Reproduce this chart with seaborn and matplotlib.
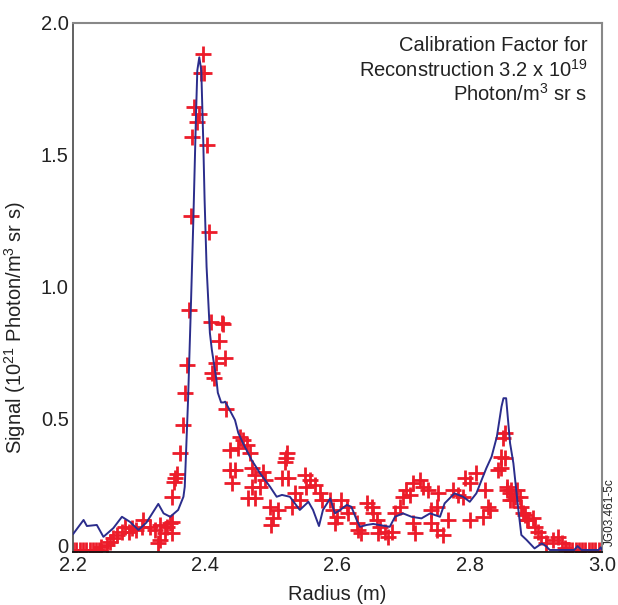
import numpy as np
import pandas as pd
import matplotlib
matplotlib.use("Agg")
import matplotlib.pyplot as plt
import matplotlib.transforms as mtransforms
import seaborn as sns

# ---- Reconstruction (blue line) ----
line_r = [2.200, 2.216, 2.221, 2.236, 2.246, 2.261, 2.274, 2.286, 2.299, 2.311,
          2.329, 2.337, 2.347, 2.359, 2.367, 2.369, 2.374, 2.378, 2.382, 2.386,
          2.388, 2.391, 2.394, 2.397, 2.399, 2.402, 2.407, 2.410, 2.417, 2.419,
          2.424, 2.428, 2.430, 2.437, 2.445, 2.450, 2.457, 2.470, 2.483, 2.498,
          2.508, 2.516, 2.528, 2.543, 2.556, 2.563, 2.572, 2.578, 2.589, 2.596,
          2.604, 2.614, 2.621, 2.629, 2.634, 2.644, 2.654, 2.663, 2.679, 2.687,
          2.699, 2.712, 2.727, 2.740, 2.755, 2.762, 2.777, 2.790, 2.800, 2.810,
          2.818, 2.825, 2.833, 2.841, 2.848, 2.851, 2.855, 2.861, 2.866, 2.873,
          2.878, 2.886, 2.898, 2.909, 2.916, 2.921, 2.958, 2.963, 2.969, 2.995,
          2.998, 3.000]
line_s = [0.060, 0.114, 0.091, 0.095, 0.050, 0.083, 0.126, 0.107, 0.076, 0.104,
          0.175, 0.139, 0.126, 0.152, 0.202, 0.240, 0.569, 0.900, 1.252, 1.650,
          1.820, 1.870, 1.820, 1.550, 1.330, 1.075, 0.824, 0.759, 0.645, 0.597,
          0.560, 0.560, 0.563, 0.531, 0.493, 0.444, 0.406, 0.342, 0.291, 0.240,
          0.202, 0.209, 0.202, 0.152, 0.183, 0.152, 0.091, 0.152, 0.196, 0.139,
          0.152, 0.171, 0.164, 0.114, 0.088, 0.095, 0.099, 0.095, 0.088, 0.126,
          0.139, 0.126, 0.120, 0.139, 0.126, 0.177, 0.215, 0.202, 0.183, 0.215,
          0.266, 0.310, 0.354, 0.430, 0.544, 0.576, 0.576, 0.405, 0.329, 0.164,
          0.057, 0.038, 0.006, 0.025, 0.013, 0.000, 0.000, 0.015, 0.000, 0.000,
          0.010, 0.000]

# ---- Measured signal (red crosses) ----
meas_r = [2.200, 2.205, 2.210, 2.215, 2.220, 2.225, 2.230, 2.235, 2.240,
          2.243, 2.251, 2.256, 2.261, 2.266, 2.274, 2.279, 2.284, 2.289, 2.296,
          2.304, 2.306, 2.316, 2.324, 2.329, 2.332, 2.332, 2.339, 2.342, 2.347,
          2.349, 2.349, 2.349, 2.352, 2.354, 2.357, 2.362, 2.367, 2.369, 2.372,
          2.375, 2.378, 2.380, 2.383, 2.387, 2.391, 2.393, 2.396, 2.398, 2.402,
          2.405, 2.408, 2.410, 2.413, 2.417, 2.421, 2.425, 2.427, 2.430,
          2.432, 2.452, 2.457, 2.463, 2.437, 2.450, 2.468, 2.437, 2.445, 2.440,
          2.470, 2.475, 2.488, 2.470, 2.483, 2.475, 2.490, 2.465, 2.523, 2.520,
          2.522, 2.516, 2.525, 2.498, 2.510, 2.503, 2.500, 2.536, 2.543, 2.531,
          2.551, 2.558, 2.553, 2.566, 2.573, 2.576, 2.589, 2.593, 2.599, 2.596,
          2.606, 2.614, 2.616, 2.629, 2.631, 2.636, 2.644, 2.652, 2.654, 2.659,
          2.662,
          2.664, 2.672, 2.677, 2.682, 2.687, 2.694, 2.699, 2.704, 2.709, 2.714,
          2.725, 2.730, 2.737, 2.714, 2.717, 2.742, 2.750, 2.742, 2.750, 2.760,
          2.752, 2.767, 2.775, 2.782, 2.793, 2.800, 2.810, 2.800, 2.790, 2.823,
          2.828, 2.820, 2.830, 2.843, 2.848, 2.853, 2.850, 2.856, 2.861, 2.871,
          2.866, 2.876, 2.881, 2.886, 2.853, 2.848, 2.856, 2.863, 2.868, 2.861,
          2.878, 2.883, 2.888, 2.896, 2.898, 2.903, 2.908, 2.916, 2.926, 2.934,
          2.939, 2.944,
          2.945, 2.950, 2.955, 2.960, 2.965, 2.970, 2.975, 2.980, 2.985, 2.990,
          2.995, 3.000]
meas_s = [0.000, 0.000, 0.000, 0.000, 0.000, 0.000, 0.000, 0.000, 0.000,
          0.013, 0.019, 0.031, 0.044, 0.057, 0.069, 0.088, 0.069, 0.082, 0.076,
          0.088, 0.114, 0.088, 0.076, 0.025, 0.038, 0.095, 0.063, 0.088, 0.101,
          0.107, 0.063, 0.202, 0.259, 0.272, 0.288, 0.367, 0.474, 0.597, 0.702,
          0.911, 1.268, 1.569, 1.680, 1.625, 1.654, 1.810, 1.881, 1.809, 1.537,
          1.206, 0.866, 0.671, 0.652, 0.711, 0.794, 0.863, 0.858, 0.730,
          0.534, 0.430, 0.417, 0.398, 0.380, 0.386, 0.367, 0.304, 0.304, 0.253,
          0.310, 0.285, 0.297, 0.240, 0.240, 0.196, 0.266, 0.196, 0.367, 0.335,
          0.349, 0.272, 0.272, 0.164, 0.152, 0.120, 0.095, 0.215, 0.190, 0.164,
          0.285, 0.266, 0.240, 0.247, 0.215, 0.190, 0.190, 0.152, 0.126, 0.101,
          0.190, 0.164, 0.139, 0.101, 0.076, 0.063, 0.177, 0.164, 0.139, 0.114,
          0.063,
          0.088, 0.069, 0.050, 0.069, 0.139, 0.164, 0.202, 0.228, 0.209, 0.253,
          0.266, 0.240, 0.228, 0.101, 0.063, 0.152, 0.164, 0.101, 0.076, 0.057,
          0.215, 0.114, 0.228, 0.209, 0.272, 0.253, 0.291, 0.114, 0.202, 0.228,
          0.164, 0.126, 0.152, 0.304, 0.354, 0.443, 0.424, 0.228, 0.215, 0.228,
          0.190, 0.202, 0.139, 0.114, 0.348, 0.310, 0.240, 0.228, 0.202, 0.190,
          0.164, 0.133, 0.114, 0.120, 0.088, 0.069, 0.050, 0.025, 0.038, 0.050,
          0.025, 0.006,
          0.000, 0.000, 0.000, 0.000, 0.000, 0.000, 0.000, 0.000, 0.000, 0.000,
          0.000, 0.000]

x_ticks = [2.2, 2.4, 2.6, 2.8, 3.0]
x_ticklabels = ["2.2", "2.4", "2.6", "2.8", "3.0"]
y_ticks = [0, 0.5, 1.0, 1.5, 2.0]
y_ticklabels = ["0", "0.5", "1.0", "1.5", "2.0"]

line_df = pd.DataFrame({"r": line_r, "s": line_s})
meas_df = pd.DataFrame({"r": meas_r, "s": meas_s})

sns.set_style("white")
plt.rcParams["font.family"] = ["Liberation Sans", "DejaVu Sans"]
plt.rcParams["mathtext.fontset"] = "custom"
plt.rcParams["mathtext.rm"] = "Liberation Sans"
plt.rcParams["mathtext.it"] = "Liberation Sans:italic"
plt.rcParams["mathtext.bf"] = "Liberation Sans:bold"

FS = 14.5

fig = plt.figure(figsize=(6.18, 6.05), dpi=100)
ax = fig.add_axes([73 / 618, 1 - 552 / 605, 529 / 618, 529 / 605])

sns.scatterplot(data=meas_df, x="r", y="s", ax=ax, marker="+", s=125,
                color="#ec1c2a", linewidth=2.0, zorder=2, legend=False)
sns.lineplot(data=line_df, x="r", y="s", ax=ax, color="#2b2d8c",
             linewidth=1.4, zorder=3, sort=False, estimator=None)

ax.set_xlim(2.2, 3.0)
ax.set_ylim(-0.0076, 2.0)
ax.set_xticks(x_ticks)
ax.set_xticklabels(x_ticklabels)
ax.set_yticks(y_ticks)
ax.set_yticklabels(y_ticklabels)
ax.tick_params(axis="both", direction="in", length=12, width=1.0,
               color="#555555", labelsize=FS, labelcolor="#222222", pad=3)
# lift the "0" label a few pixels, as in the reference
zero_lbl = ax.get_yticklabels()[0]
zero_lbl.set_transform(zero_lbl.get_transform() +
                       mtransforms.ScaledTranslation(0, 4 / 100, fig.dpi_scale_trans))

for side in ["top", "right"]:
    ax.spines[side].set_visible(True)
    ax.spines[side].set_color("#888888")
    ax.spines[side].set_linewidth(1.5)
ax.spines["left"].set_color("#555555")
ax.spines["left"].set_linewidth(1.3)
ax.spines["bottom"].set_color("#111111")
ax.spines["bottom"].set_linewidth(1.3)

ax.set_xlabel("Radius (m)", fontsize=FS, color="#222222")
ax.set_ylabel("Signal (10$^{21}$ Photon/m$^{3}$ sr s)", fontsize=FS,
              color="#222222")
ax.xaxis.set_label_coords(0.5, -0.062)
ax.yaxis.set_label_coords(-0.085, 0.425)

ax.text(0.972, 0.958, "Calibration Factor for", transform=ax.transAxes,
        ha="right", va="center", fontsize=FS, color="#222222")
ax.text(0.972, 0.911, "Reconstruction 3.2 x 10$^{19}$", transform=ax.transAxes,
        ha="right", va="center", fontsize=FS, color="#222222")
ax.text(0.972, 0.866, "Photon/m$^{3}$ sr s", transform=ax.transAxes,
        ha="right", va="center", fontsize=FS, color="#222222")

fig.text(610 / 618, 1 - 512 / 605, "JG03.461-5c", rotation=90,
         ha="center", va="center", fontsize=8.5, color="#222222")

fig.savefig("out.png", dpi=100)
